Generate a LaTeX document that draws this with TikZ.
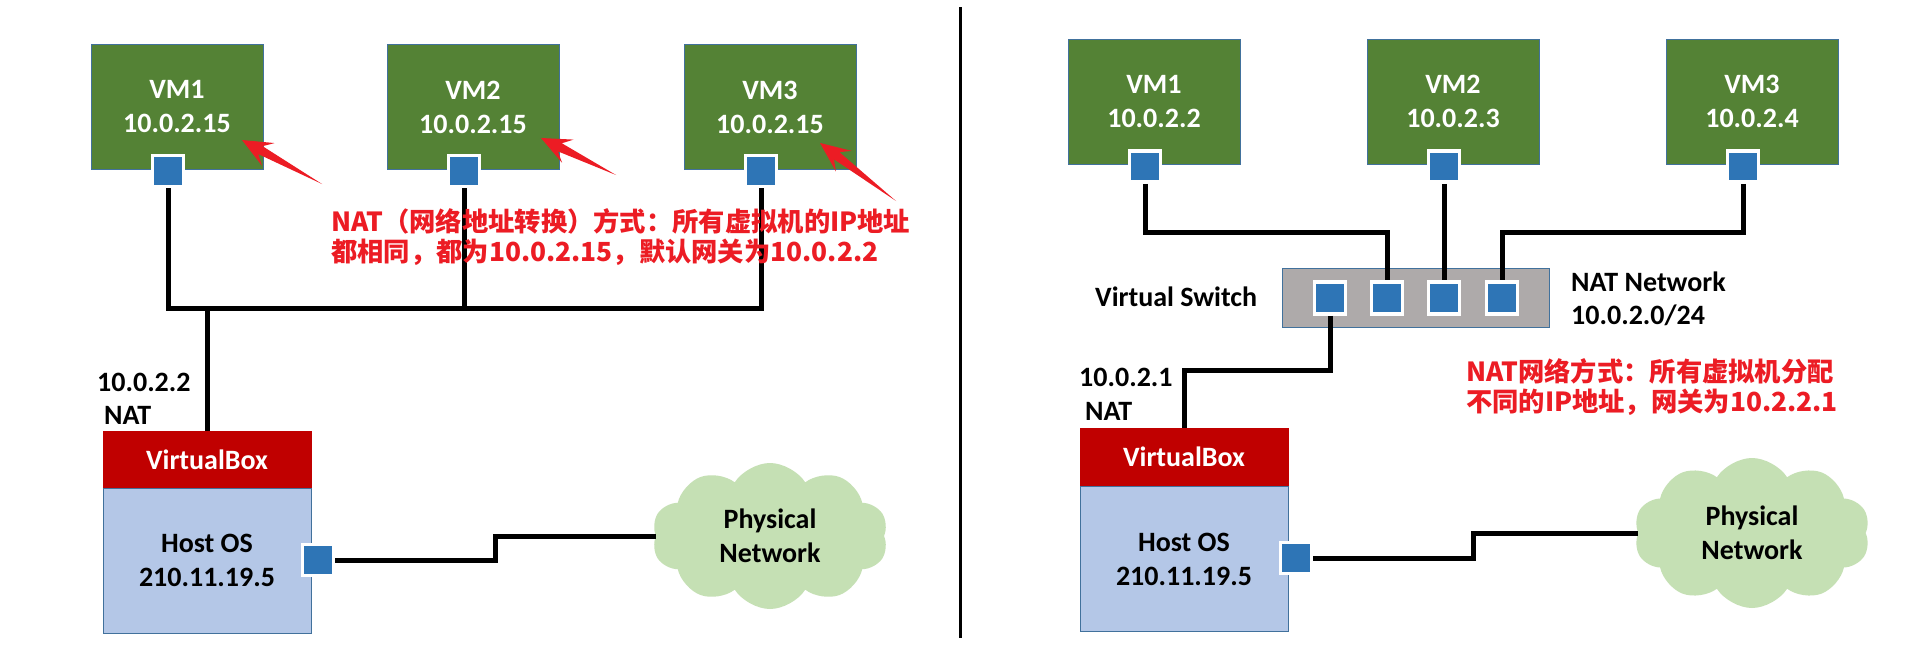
\documentclass[tikz,border=0pt]{standalone}
\usepackage{fontspec}
\setmainfont{Carlito}
\newfontfamily\cjk{Noto Sans CJK SC}
\usetikzlibrary{shapes.symbols,calc}
\definecolor{vmgreen}{RGB}{84,130,53}
\definecolor{edgeblue}{RGB}{65,113,156}
\definecolor{portblue}{RGB}{46,117,182}
\definecolor{vbred}{RGB}{192,0,0}
\definecolor{hostblue}{RGB}{180,199,231}
\definecolor{switchgray}{RGB}{174,170,170}
\definecolor{cloudgreen}{RGB}{197,224,180}
\definecolor{notered}{RGB}{236,28,36}
\newcommand\mylbl{\fontsize{28}{34}\selectfont\bfseries}
\newcommand\mynote{\cjk\bfseries\fontsize{26.3}{30}\selectfont}
\newcommand\redarrow[2]{%
  \path ($(#2)!30pt!(#1)$) coordinate (baseA) ($(#2)!21pt!(#1)$) coordinate (neckA);
  \fill[notered] (#1) -- ($(neckA)!4.5pt!90:(#2)$) -- ($(baseA)!13pt!90:(#2)$) -- (#2)
    -- ($(baseA)!13pt!-90:(#2)$) -- ($(neckA)!4.5pt!-90:(#2)$) -- cycle;}
\tikzset{
  vm/.style={fill=vmgreen, draw=edgeblue, line width=1pt, minimum width=172pt, minimum height=125pt,
    inner sep=0pt, text=white, align=center, font=\mylbl},
  port/.style={fill=portblue, draw=white, line width=3.5pt, minimum width=31pt, minimum height=31pt, inner sep=0pt},
  vbox/.style={fill=vbred, draw=vbred, line width=1pt, minimum width=208pt, minimum height=57pt,
    inner sep=0pt, text=white, font=\mylbl},
  hostbox/.style={fill=hostblue, draw=edgeblue, line width=1pt, minimum width=208pt, minimum height=145pt,
    inner sep=0pt, align=center, font=\mylbl},
  switchbox/.style={fill=switchgray, draw=edgeblue, line width=1pt, minimum width=267pt, minimum height=59pt, inner sep=0pt},
  netcloud/.style={cloud, cloud puffs=10, cloud puff arc=115, cloud ignores aspect, fill=cloudgreen, draw=none,
    minimum width=236pt, minimum height=146pt, inner sep=0pt, align=center, font=\mylbl},
  lbl/.style={inner sep=0pt, anchor=west, font=\mylbl},
  note/.style={inner sep=0pt, anchor=west, align=left, text=notered, font=\mynote},
  wire/.style={draw=black, line width=5pt},
}
\begin{document}
\begin{tikzpicture}[x=1pt, y=-1pt]
\useasboundingbox[fill=white] (0,0) rectangle (1930,645);

% ---------------- left panel ----------------
\node[vm] (L1) at (177,107) {VM1\\10.0.2.15};
\node[vm] (L2) at (473,107) {VM2\\10.0.2.15};
\node[vm] (L3) at (770,107) {VM3\\10.0.2.15};
\node[port] (L1p) at (168,171) {};
\node[port] (L2p) at (464,171) {};
\node[port] (L3p) at (761,171) {};

\node[vbox] (Lvb) at (207,459.5) {VirtualBox};
\node[hostbox] (Lhost) at (207,560.5) {Host OS\\210.11.19.5};
\node[port] (Lhp) at (318,560) {};
\node[netcloud] (Lcloud) at (770,536) {Physical\\Network};

\node[lbl] (Lgw) at (97,382) {10.0.2.2};
\node[lbl] (Lnat) at (104,415) {NAT};

\coordinate (Lj1) at (168,308);
\coordinate (Lj3) at (761,308);
\draw[wire] (L1p.south) -- (Lj1) -- (Lj3) -- (L3p.south);
\draw[wire] (L2p.south) -- (L2p.south |- Lj1);
\draw[wire] (Lvb.north) -- (Lvb.north |- Lj1);
\draw[wire] (Lhp.east) -- ++(160,0) |- (Lcloud.west);

\node[note] (Lnote) at (331,237.5) {NAT（网络地址转换）方式：所有虚拟机的IP地址\\都相同，都为10.0.2.15，默认网关为10.0.2.2};

\coordinate (a1s) at (322,184); \coordinate (a1t) at (242,140);
\coordinate (a2s) at (616,175); \coordinate (a2t) at (541,138);
\coordinate (a3s) at (896,201); \coordinate (a3t) at (820,143);
\redarrow{a1s}{a1t}
\redarrow{a2s}{a2t}
\redarrow{a3s}{a3t}

% ---------------- separator ----------------
\coordinate (sepT) at (960,7);
\coordinate (sepB) at (960,638);
\draw[line width=3pt] (sepT) -- (sepB);

% ---------------- right panel ----------------
\node[vm] (R1) at (1154,101.5) {VM1\\10.0.2.2};
\node[vm] (R2) at (1453,101.5) {VM2\\10.0.2.3};
\node[vm] (R3) at (1752,101.5) {VM3\\10.0.2.4};
\node[port] (R1p) at (1145,166.5) {};
\node[port] (R2p) at (1444,166.5) {};
\node[port] (R3p) at (1743,166.5) {};

\node[switchbox] (Sw) at (1415.5,297.5) {};
\node[port, minimum height=32pt] (S1) at (1330,298) {};
\node[port, minimum height=32pt] (S2) at (1387,298) {};
\node[port, minimum height=32pt] (S3) at (1444,298) {};
\node[port, minimum height=32pt] (S4) at (1502,298) {};

\node[lbl] (Swl) at (1095,297) {Virtual Switch};
\node[lbl] (Nnet) at (1571,282) {NAT Network};
\node[lbl] (Nsub) at (1571,315) {10.0.2.0/24};

\node[vbox] (Rvb) at (1184,457) {VirtualBox};
\node[hostbox] (Rhost) at (1184,559) {Host OS\\210.11.19.5};
\node[port] (Rhp) at (1296,558) {};
\node[netcloud, minimum height=150pt] (Rcloud) at (1752,533) {Physical\\Network};

\node[lbl] (Rgw) at (1079,377) {10.0.2.1};
\node[lbl] (Rnat) at (1085,411) {NAT};

\coordinate (Rbus) at (1145,232);
\coordinate (Rlow) at (1330,370);
\draw[wire] (R1p.south) -- (Rbus) -| (S2.north);
\draw[wire] (R2p.south) -- (S3.north);
\draw[wire] (R3p.south) -- (R3p.south |- Rbus) -| (S4.north);
\draw[wire] (S1.south) -- (Rlow) -| (Rvb.north);
\draw[wire] (Rhp.east) -- ++(160,0) |- (Rcloud.west);

\node[note] (Rnote) at (1466,387.5) {NAT网络方式：所有虚拟机分配\\不同的IP地址，网关为10.2.2.1};
\end{tikzpicture}
\end{document}
